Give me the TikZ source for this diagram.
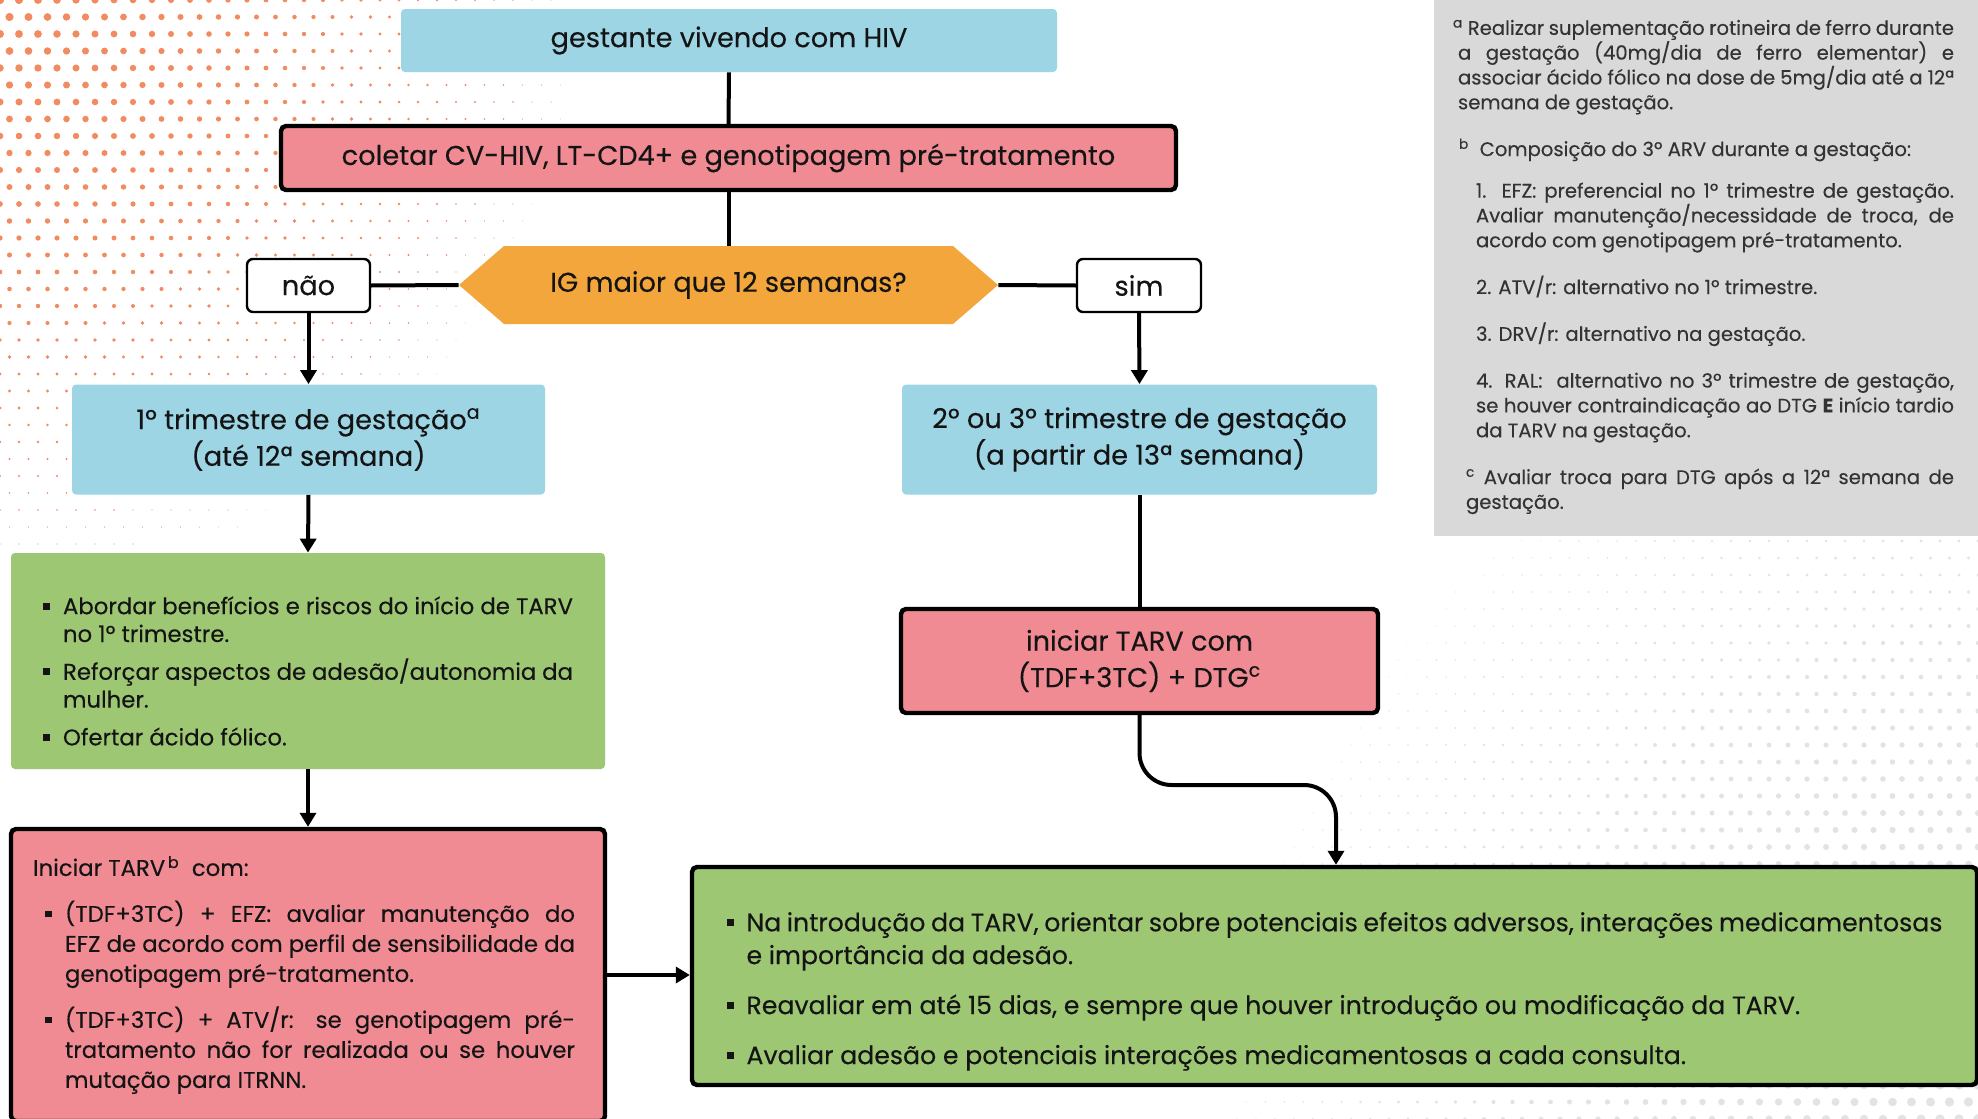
\documentclass[tikz,border=0pt]{standalone}
\usepackage{fontspec}
\setmainfont{Poppins}[FakeBold=0.25]
\usetikzlibrary{arrows.meta,calc}
\definecolor{cblue}{HTML}{9DD5E5}
\definecolor{cred}{HTML}{F08A93}
\definecolor{cgreen}{HTML}{9EC774}
\definecolor{corange}{HTML}{F3A63B}
\definecolor{cgray}{HTML}{D9D9D9}
\definecolor{cdot}{HTML}{F28B60}
\definecolor{ctxt}{HTML}{141414}
\definecolor{cfoot}{HTML}{333333}
\hyphenpenalty=10000
\emergencystretch=3em
\newlength{\bulletoff}
\newcommand{\sqb}{\raisebox{0.2em}{\rule{0.3em}{0.3em}}}
\newcommand{\bitem}[1]{\par\noindent\hangindent=\dimexpr\bulletoff+10pt\relax\hangafter=1\hspace*{\bulletoff}\makebox[10pt][l]{\sqb}#1}
\tikzset{
  boxbase/.style={inner sep=0pt, text=ctxt, align=center},
  bluebox/.style={boxbase, fill=cblue, rounded corners=2pt},
  redbox/.style={boxbase, fill=cred, draw=black, line width=2.2pt, rounded corners=2.5pt},
  greenbox/.style={boxbase, fill=cgreen, rounded corners=2pt},
  answer/.style={boxbase, fill=white, draw=black, line width=1.2pt, rounded corners=3pt},
  conn/.style={line width=2pt, draw=black},
  arr/.style={conn, -{Triangle[width=8pt,length=7pt]}},
  mainfont/.style={font=\fontsize{13.6}{18.3}\selectfont},
}
\begin{document}
\begin{tikzpicture}[x=0.5pt,y=-0.5pt]
\fill[white] (0,0) rectangle (1978,1119);
\useasboundingbox (0,0) rectangle (1978,1119);
% orange dots, top left
\foreach \i in {0,...,34}{\foreach \j in {0,...,32}{
  \pgfmathsetmacro{\xx}{\i*19+mod(\j,2)*9.5}
  \pgfmathsetmacro{\yy}{\j*17}
  \pgfmathsetmacro{\rr}{2.1*(1-sqrt((\xx/100)^2+(\yy/100)^2)/6.4)}
  \ifdim\rr pt>0.2pt \fill[cdot] (\xx,\yy) circle[radius=\rr pt]; \fi
}}
% faint grey dots, right
\foreach \i in {0,...,44}{\foreach \j in {0,...,44}{
  \pgfmathsetmacro{\dx}{\i*19+mod(\j,2)*9.5}
  \pgfmathsetmacro{\dy}{\j*17}
  \pgfmathsetmacro{\rr}{2.4*(1-sqrt((\dx/100)^2+(\dy/100)^2)/8.5)}
  \ifdim\rr pt>0.3pt \fill[black!11] ({1978-\dx},{1119-\dy}) circle[radius=\rr pt]; \fi
}}
% footnote box
\node[boxbase, fill=cgray, text=cfoot, minimum width=272pt, minimum height=269pt, text width=248pt, align=justify, font=\fontsize{9.8}{12.4}\selectfont] (foot) at (1706,267) {%
\parskip=11pt
\hspace*{-2.5pt}\textsuperscript{a} Realizar suplementação rotineira de ferro durante a gestação (40mg/dia de ferro elementar) e associar ácido fólico na dose de 5mg/dia até a 12ª semana de gestação.\par
\hspace*{0.5pt}\textsuperscript{b}\ \ Composição do 3º ARV durante a gestação:\par
\vskip-2.6pt
{\leftskip=9pt 1. EFZ: preferencial no 1º trimestre de gestação. Avaliar manutenção/necessidade de troca, de acordo com genotipagem pré-tratamento.\par
2. ATV/r: alternativo no 1º trimestre.\par
3. DRV/r: alternativo na gestação.\par
4. RAL:\ \ alternativo no 3º trimestre de gestação, se houver contraindicação ao DTG \textbf{E} início tardio da TARV na gestação.\par}
{\leftskip=4pt \textsuperscript{c} Avaliar troca para DTG após a 12ª semana de gestação.\par}};
% hexagon
\fill[corange] (459,285) -- (504,246) -- (953,246) -- (998,285) -- (953,324) -- (504,324) -- cycle;
% nodes
\node[bluebox, mainfont, minimum width=328pt, minimum height=31.5pt] (gest) at (729,40.5) {gestante vivendo com HIV};
\node[redbox, mainfont, minimum width=447.5pt, minimum height=32pt] (colet) at (728.5,158) {coletar CV-HIV, LT-CD4+ e genotipagem pré-tratamento};
\node[boxbase, mainfont, minimum width=269.5pt, minimum height=39pt] (hex) at (728.5,285) {IG maior que 12 semanas?};
\node[answer, mainfont, minimum width=61.5pt, minimum height=26.5pt] (nao) at (308.5,285.5) {não};
\node[answer, mainfont, minimum width=62pt, minimum height=26.5pt] (sim) at (1139,285.5) {sim};
\node[bluebox, mainfont, minimum width=236.5pt, minimum height=55pt] (blue1) at (308.5,439.5) {1º trimestre de gestação\textsuperscript{a}\\(até 12ª semana)};
\node[bluebox, mainfont, minimum width=237.5pt, minimum height=55pt] (blue2) at (1139.5,439.5) {2º ou 3º trimestre de gestação\\(a partir de 13ª semana)};
\node[redbox, mainfont, minimum width=238.5pt, minimum height=52pt] (red2) at (1139.5,661) {iniciar TARV com\\(TDF+3TC) + DTG\textsuperscript{c}};
\node[greenbox, minimum width=297pt, minimum height=108pt, text width=265pt, align=justify, font=\fontsize{11.4}{13.9}\selectfont] (green1) at (308,661) {%
\parskip=5pt
\bitem{Abordar benefícios e riscos do início de TARV no 1º trimestre.}
\bitem{Reforçar aspectos de adesão/autonomia da mulher.}
\bitem{Ofertar ácido fólico.}\par};
\node[redbox, minimum width=297pt, minimum height=146pt, text width=275pt, align=justify, font=\fontsize{11.4}{15}\selectfont] (red1) at (308,975) {%
\parskip=8pt \rightskip=4pt \setlength{\bulletoff}{6pt}%
Iniciar TARV\textsuperscript{\,b}\ \ com:
\bitem{(TDF+3TC) + EFZ: avaliar manutenção do\linebreak EFZ de acordo com perfil de sensibilidade da genotipagem pré-tratamento.}
\bitem{(TDF+3TC) + ATV/r: se genotipagem pré-tratamento não for realizada ou se houver mutação para ITRNN.}\par};
\node[redbox, fill=cgreen, minimum width=642.5pt, minimum height=109pt, text width=608pt, align=justify, font=\fontsize{12.6}{16.4}\selectfont] (big) at (1334.5,976) {%
\parskip=8.6pt
\bitem{Na introdução da TARV, orientar sobre potenciais efeitos adversos, interações medicamentosas e importância da adesão.}
\bitem{Reavaliar em até 15 dias, e sempre que houver introdução ou modificação da TARV.}
\bitem{Avaliar adesão e potenciais interações medicamentosas a cada consulta.}\par};
% connectors
\coordinate (bend) at (1336,785);
\draw[conn] (gest.south) -- (colet.north);
\draw[conn] (colet.south) -- (hex.north);
\draw[conn] (hex.west) -- (nao.east);
\draw[conn] (hex.east) -- (sim.west);
\draw[arr] (nao.south) -- (blue1.north);
\draw[arr] (sim.south) -- (blue2.north);
\draw[arr] (blue1.south) -- (green1.north);
\draw[arr] (green1.south) -- (red1.north);
\draw[conn] (blue2.south) -- (red2.north);
\draw[arr, rounded corners=16pt] (red2.south) |- (bend) -- (bend |- big.north);
\draw[arr] (red1.east) -- (red1.east -| big.west);
\end{tikzpicture}
\end{document}
